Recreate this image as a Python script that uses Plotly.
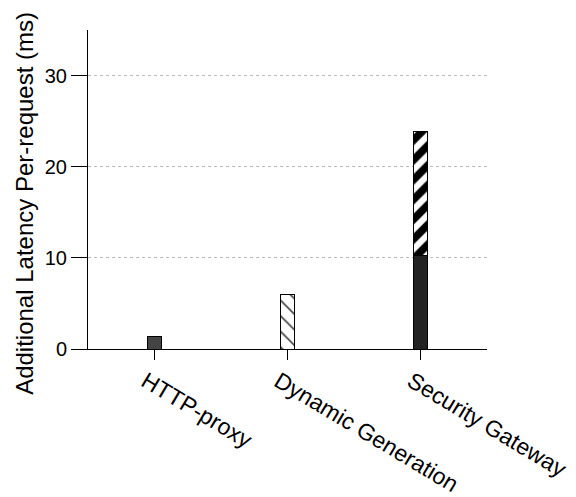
import plotly.graph_objects as go

categories = ["HTTP-proxy", "Dynamic Generation", "Security Gateway"]
base_ms = [1.4, 6.0, 10.3]
extra_ms = [None, None, 13.6]
y_ticks = [0, 10, 20, 30]
y_title = "Additional Latency Per-request (ms)"

fig = go.Figure()
fig.add_trace(go.Bar(
    x=categories, y=base_ms, width=0.105,
    marker=dict(
        color=["#444444", "white", "#222222"],
        line=dict(color="black", width=1),
        pattern=dict(shape=["", "\\", ""], fgcolor="#222222", fgopacity=1,
                     size=11, solidity=0.15),
    ),
))
fig.add_trace(go.Bar(
    x=categories, y=extra_ms, width=0.105,
    marker=dict(
        color="white",
        line=dict(color="black", width=1),
        pattern=dict(shape="/", fgcolor="black", fgopacity=1, size=14, solidity=0.55),
    ),
))

# page body has an 8px margin, so the plot box is offset by that
fig.update_layout(
    barmode="stack",
    width=576, height=497,
    margin=dict(l=80, r=97, t=22, b=156),
    plot_bgcolor="white", paper_bgcolor="white",
    showlegend=False,
    font=dict(family="Liberation Sans, Arial, sans-serif", size=20, color="black"),
)
fig.update_xaxes(
    range=[-0.5, 2.5], showline=True, linecolor="black", linewidth=1,
    ticks="outside", ticklen=10, tickcolor="black", tickangle=31,
    tickfont=dict(size=23), ticklabelshift=-9, ticklabelstandoff=-1,
    showgrid=False, automargin=False,
)
fig.update_yaxes(
    range=[0, 35], tickvals=y_ticks, showline=True, linecolor="black", linewidth=1,
    ticks="outside", ticklen=16, tickcolor="black",
    tickfont=dict(size=20),
    showgrid=True, gridcolor="#bbbbbb", griddash="dot", gridwidth=1,
    zeroline=False, automargin=False,
)
# axis title sits a little below centre in the original, so place it by hand
fig.add_annotation(
    text=y_title, textangle=-90, showarrow=False,
    xref="paper", yref="paper", x=-0.158, y=0.458,
    xanchor="center", yanchor="middle", font=dict(size=24),
)

fig.write_html("out.html")
